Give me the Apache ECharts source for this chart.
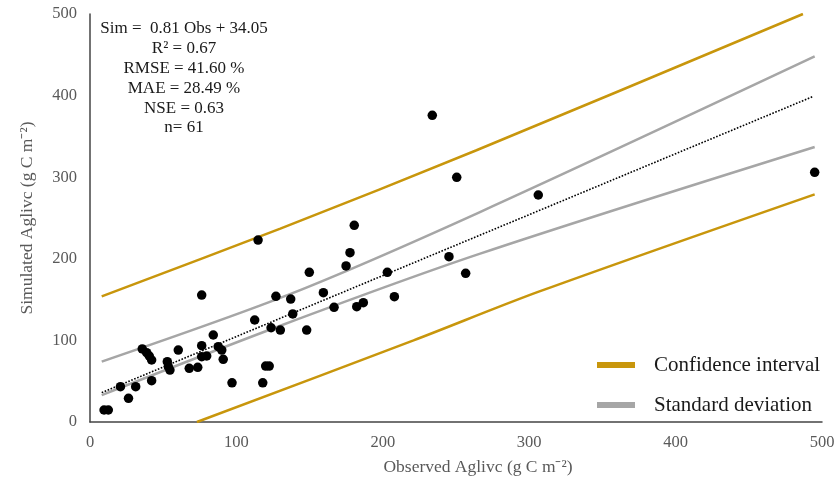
<!DOCTYPE html>
<html>
<head>
<meta charset="utf-8">
<script src="https://cdn.jsdelivr.net/npm/echarts@6/dist/echarts.min.js"></script>
<style>html,body{margin:0;padding:0;background:#fff}#c{width:838px;height:483px}</style>
</head>
<body>
<div id="c"></div>
<script>
// Observed vs simulated points [observed, simulated]
const points = [
  [9.6,14.7],[12.5,14.7],[20.8,43.3],[26.3,29],[31.2,43.3],[42.1,50.6],
  [35.7,89.5],[38.7,84.9],[40.5,80.9],[42.1,76],[52.8,73.9],[53.5,67.8],
  [54.6,63.7],[60.3,88.2],[67.8,65.8],[73.6,67],[76.3,155.6],[76.3,93.5],
  [76.3,80],[79.7,80.9],[84.2,106.6],[87.6,92.3],[90,88.2],[91,76.8],
  [97,48],[118,48],[120,68.5],[122.4,68.5],[112.5,125],[123.7,115.5],
  [130,112.7],[127,154],[114.8,223],
  [250.5,299.9],[306.2,278.2],[180.5,241],[177.6,207.5],[174.9,191.2],
  [149.8,183.4],[245.2,202.6],[256.6,182.2],[203.1,183.4],[137.1,150.7],
  [159.4,158.5],[207.9,153.6],[166.7,140.6],[182.2,141.3],[186.7,146.2],
  [138.5,132.4],[148,112.7],[233.8,375.8],[495,306]
];
// Lines
const regressionLine = [[8,36],[494,399]];
const upperCI = [[8,154],[130,237],[264,333],[487,500]];
const lowerCI = [[73,0],[221,100],[307,160],[495,279]];
const upperSD = [[8,74],[137,157],[266,257],[495,448]];
const lowerSD = [[8,33],[130,118],[266,206],[495,337]];
const axisTicks = [0,100,200,300,400,500];
const statsText = ['Sim =  0.81 Obs + 34.05','R² = 0.67','RMSE = 41.60 %','MAE = 28.49 %','NSE = 0.63','n= 61'];

const ORANGE = '#C8960C', GREY = '#A6A6A6';
const FONT = '"Liberation Serif", "Times New Roman", serif';

const chart = echarts.init(document.getElementById('c'), null, {renderer:'canvas'});
chart.setOption({
  animation: false,
  backgroundColor: '#fff',
  grid: {left: 90, right: 16, top: 14, bottom: 61, containLabel: false},
  xAxis: {
    type: 'value', min: axisTicks[0], max: axisTicks[axisTicks.length-1], interval: 100,
    name: 'Observed Aglivc (g C m⁻²)', nameLocation: 'middle', nameGap: 36,
    nameTextStyle: {fontFamily: FONT, fontSize: 17.5, color: '#595959', padding: [0,0,0,44]},
    axisLine: {show: true, lineStyle: {color: '#444', width: 1.5}},
    axisTick: {show: false}, splitLine: {show: false},
    axisLabel: {fontFamily: FONT, fontSize: 16.5, color: '#595959', margin: 12}
  },
  yAxis: {
    type: 'value', min: axisTicks[0], max: axisTicks[axisTicks.length-1], interval: 100,
    name: 'Simulated Aglivc (g C m⁻²)', nameLocation: 'middle', nameGap: 54,
    nameTextStyle: {fontFamily: FONT, fontSize: 17.5, color: '#595959'},
    axisLine: {show: true, lineStyle: {color: '#444', width: 1.5}},
    axisTick: {show: false}, splitLine: {show: false},
    axisLabel: {fontFamily: FONT, fontSize: 16.5, color: '#595959', margin: 13}
  },
  legend: {
    orient: 'vertical', left: 592, top: 349, itemWidth: 38, itemHeight: 6, itemGap: 18,
    icon: 'rect',
    data: ['Confidence interval', 'Standard deviation'],
    textStyle: {fontFamily: FONT, fontSize: 21, color: '#1a1a1a', lineHeight: 22, padding: [0,0,0,14]}
  },
  graphic: [{
    type: 'text', x: 184, y: 19,
    style: {text: statsText.join('\n'), textAlign: 'center', font: '17px ' + FONT, lineHeight: 19.8, fill: '#1a1a1a'}
  }],
  series: [
    {name: 'Confidence interval', type: 'line', data: upperCI, smooth: 0.3, showSymbol: false,
     lineStyle: {color: ORANGE, width: 2.5}, itemStyle: {color: ORANGE}, z: 2},
    {name: 'Confidence interval', type: 'line', data: lowerCI, smooth: 0.3, showSymbol: false,
     lineStyle: {color: ORANGE, width: 2.5}, itemStyle: {color: ORANGE}, z: 2},
    {name: 'Standard deviation', type: 'line', data: upperSD, smooth: 0.3, showSymbol: false,
     lineStyle: {color: GREY, width: 2.5}, itemStyle: {color: GREY}, z: 2},
    {name: 'Standard deviation', type: 'line', data: lowerSD, smooth: 0.3, showSymbol: false,
     lineStyle: {color: GREY, width: 2.5}, itemStyle: {color: GREY}, z: 2},
    {name: 'Regression', type: 'line', data: regressionLine, showSymbol: false,
     lineStyle: {color: '#000', width: 1.6, type: [1.6, 1.6]}, z: 3},
    {name: 'Points', type: 'scatter', data: points, symbolSize: 9.5,
     itemStyle: {color: '#000', opacity: 1}, z: 4}
  ]
});
</script>
</body>
</html>
